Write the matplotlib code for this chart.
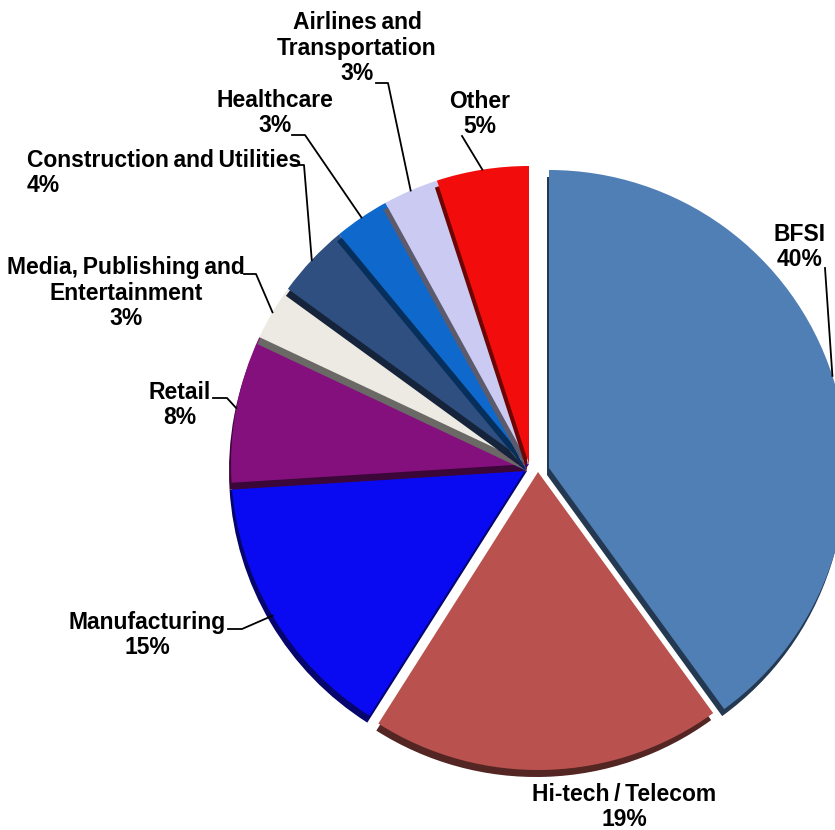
import numpy as np
import matplotlib.pyplot as plt
from matplotlib.patches import Wedge
from matplotlib.colors import to_rgb

# -----------------------------
# DATA
# -----------------------------
sectors = ['BFSI', 'Hi-tech / Telecom', 'Manufacturing', 'Retail',
           'Media, Publishing and\nEntertainment', 'Construction and Utilities',
           'Healthcare', 'Airlines and\nTransportation', 'Other']
shares = [40, 19, 15, 8, 3, 4, 3, 3, 5]
colors = ['#4F7FB5', '#B9524E', '#0A0AF2', '#84107E', '#ECEAE2',
          '#2E4F80', '#0F68CC', '#CACAF2', '#F20C0C']

# -----------------------------
# LAYOUT (pixel coords, y measured from top)
# -----------------------------
W, H = 835, 830
cx, cy, r = 529, 464, 298
# pulled-out slices: (dx, dy) in pixels
shift = {'BFSI': (20, 4), 'Hi-tech / Telecom': (9, 8)}

# label centre, horizontal alignment
label_pos = {
    'BFSI': (800, 247, 'center'),
    'Hi-tech / Telecom': (624, 807, 'center'),
    'Manufacturing': (147, 635, 'center'),
    'Retail': (180, 405, 'center'),
    'Media, Publishing and\nEntertainment': (126, 293, 'center'),
    'Construction and Utilities': (27, 173, 'left'),
    'Healthcare': (275, 113, 'center'),
    'Airlines and\nTransportation': (357, 48, 'center'),
    'Other': (480, 114, 'center'),
}
# leader start point and elbow next to the text
leaders = {
    'BFSI': [(825, 268)],
    'Manufacturing': [(228, 629), (242, 629)],
    'Retail': [(213, 398), (227, 398)],
    'Media, Publishing and\nEntertainment': [(244, 274), (256, 274)],
    'Construction and Utilities': [(293, 165), (304, 165)],
    'Healthcare': [(292, 135), (305, 135)],
    'Airlines and\nTransportation': [(376, 83), (388, 83)],
    'Other': [(462, 136)],
}

fig = plt.figure(figsize=(W / 100, H / 100), dpi=100)
ax = fig.add_axes([0, 0, 1, 1])

wedges, _ = ax.pie(shares, colors=colors, startangle=90, counterclock=False,
                   center=(cx, H - cy), radius=r, wedgeprops=dict(linewidth=0))
ax.set_xlim(0, W)
ax.set_ylim(0, H)
ax.set_aspect('equal')
ax.axis('off')

for w, name in zip(wedges, sectors):
    if name in shift:
        dx, dy = shift[name]
        w.set_center((cx + dx, H - cy - dy))

# darker copy under each wedge gives the 3D edge; each slice sits over the one before
for i, (w, c) in enumerate(zip(wedges, colors)):
    w.set_zorder(3 + 2 * i)
    dark = tuple(0.45 * v for v in to_rgb(c))
    x0, y0 = w.center
    ax.add_patch(Wedge((x0 - 2, y0 - 7), r, w.theta1, w.theta2,
                       color=dark, linewidth=0, zorder=2 + 2 * i))

for w, name, val in zip(wedges, sectors, shares):
    x, y, ha = label_pos[name]
    txt = f'{name}\n{val}%'.replace(' ', '\u2009')
    ax.text(x, H - y, txt, ha=ha, va='center',
            multialignment=ha, fontsize=16.5, fontweight='bold',
            family=['Liberation Sans', 'DejaVu Sans'], linespacing=1.15,
            zorder=50)
    if name in leaders:
        mid = np.deg2rad((w.theta1 + w.theta2) / 2)
        ex = w.center[0] + w.r * np.cos(mid)
        ey = w.center[1] + w.r * np.sin(mid)
        pts = [(px, H - py) for px, py in leaders[name]] + [(ex, ey)]
        xs, ys = zip(*pts)
        ax.plot(xs, ys, color='black', linewidth=1.3, zorder=51)

fig.savefig('out.png', dpi=100)
